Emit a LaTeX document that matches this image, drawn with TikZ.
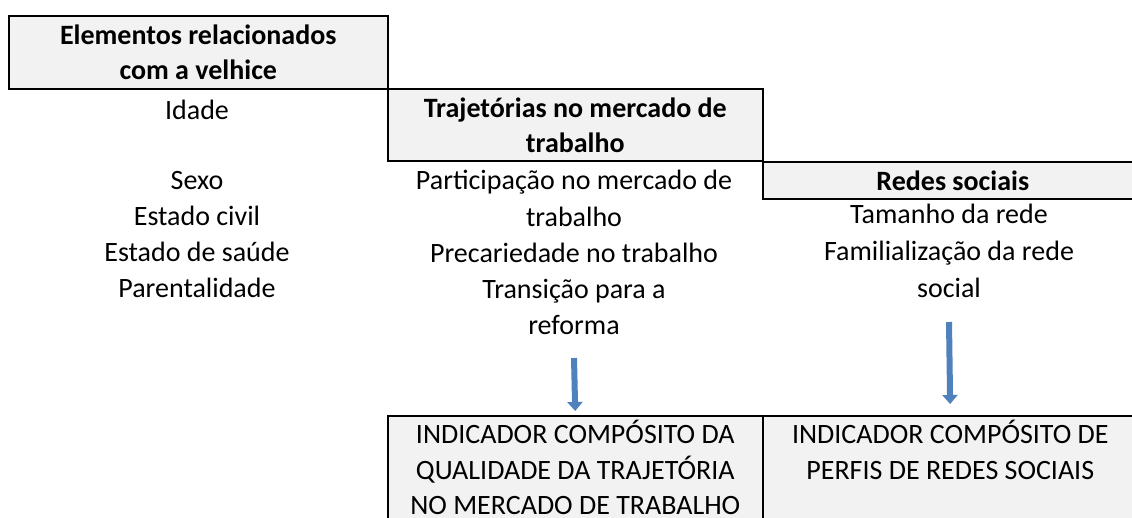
\documentclass[tikz,border=0pt]{standalone}
\usepackage{fontspec}
\setmainfont{Carlito}
\usetikzlibrary{positioning,arrows.meta}

\definecolor{boxgray}{HTML}{F2F2F2}
\definecolor{arrowblue}{HTML}{4F81BD}
\definecolor{arrowedge}{HTML}{3A6497}

\begin{document}
\begin{tikzpicture}[x=1pt,y=-1pt]
            \tikzstyle{every node}=[font=\fontsize{28}{36}\selectfont, inner sep=0pt]
            \tikzstyle{header}=[draw=black, line width=1.6pt, fill=boxgray, align=center, anchor=north west, font=\fontsize{28}{35}\selectfont\bfseries]
            \tikzstyle{item}=[anchor=base]
            \tikzstyle{resultbox}=[draw=black, line width=1.6pt, fill=boxgray, anchor=north west, minimum width=375, minimum height=140]
            \tikzstyle{result}=[align=center, font=\fontsize{28}{35.5}\selectfont]
            \tikzstyle{blockarrow}=[draw=arrowblue, line width=6pt, -{Triangle[width=15pt,length=9pt]}]

            \useasboundingbox (0,0) rectangle (1132,517);

            % Draw the header boxes
            \node[header, minimum width=379, minimum height=73] (H-1) at (8,15) {Elementos relacionados\\com a velhice};
            \node[header, minimum width=375, minimum height=72] (H-2) at (387,88) {Trajetórias no mercado de\\trabalho};
            \node[header, minimum width=380, minimum height=37] (H-3) at (762,161) {Redes sociais};

            % Draw the items under each header
            \node[item] (V-0) at (197,119) {Idade};
            \foreach \name / \y / \txt in {1/189/Sexo, 2/225/Estado civil, 3/261/Estado de saúde, 4/297/Parentalidade}
                \node[item] (V-\name) at (197,\y) {\txt};
            \foreach \name / \y / \txt in {1/189/Participação no mercado de, 2/226/trabalho, 3/262/Precariedade no trabalho, 4/298/Transição para a, 5/334/reforma}
                \node[item] (M-\name) at (574,\y) {\txt};
            \foreach \name / \y / \txt in {1/223/Tamanho da rede, 2/260/Familialização da rede, 3/297/social}
                \node[item] (R-\name) at (949,\y) {\txt};

            % Draw the composite indicator boxes
            \foreach \name / \x in {1/387, 2/762}
                \node[resultbox] (B-\name) at (\x,415) {};
            \node[result, below=5pt of B-1.north] (I-1) {INDICADOR COMPÓSITO DA\\QUALIDADE DA TRAJETÓRIA\\NO MERCADO DE TRABALHO};
            \node[result, below=5pt of B-2.north] (I-2) {INDICADOR COMPÓSITO DE\\PERFIS DE REDES SOCIAIS};

            % Arrows down to the indicators
            \coordinate (A-1) at (574,358);
            \coordinate (A-2) at (949,322);
            \draw[blockarrow, shorten >=4pt] (A-1) -- (B-1.north);
            \draw[blockarrow, shorten >=11pt] (A-2) -- (B-2.north);
        \end{tikzpicture}
\end{document}
